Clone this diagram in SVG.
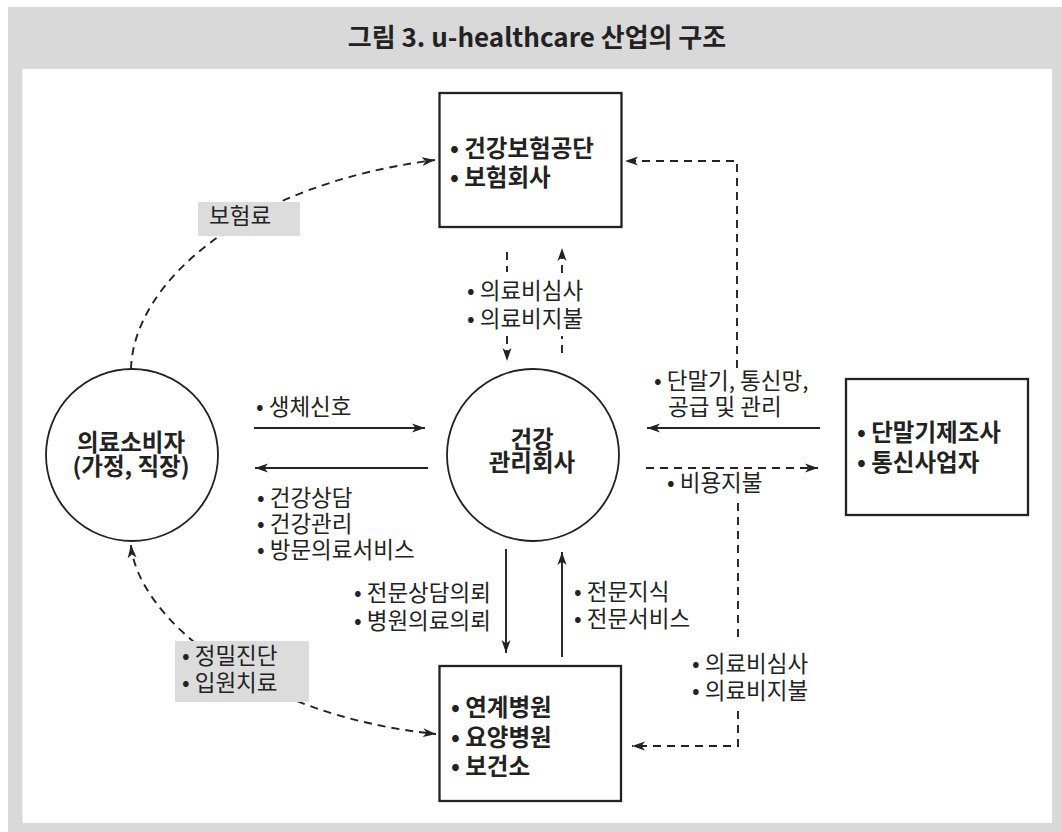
<svg xmlns="http://www.w3.org/2000/svg" width="1062" height="832" viewBox="0 0 1062 832">
<style>
.t{font-family:"Noto Sans CJK KR","Liberation Sans",sans-serif;fill:#222}
.node{font-size:23.5px;font-weight:bold}
.lab{font-size:22.5px}
.box{fill:#fff;stroke:#222;stroke-width:2.3}
.circ{fill:#fff;stroke:#222;stroke-width:1.8}
.ln{fill:none;stroke:#222;stroke-width:1.9}
.dash{stroke-dasharray:8 6}
.gl{fill:#dcdcdc}
</style>
<defs>
<marker id="ah" markerUnits="userSpaceOnUse" markerWidth="14" markerHeight="10" refX="13" refY="5" orient="auto-start-reverse">
<path d="M0,0.5 L13,5 L0,9.5 L3.5,5 Z" fill="#222"/>
</marker>
</defs>
<rect x="8" y="7" width="1054" height="825" fill="#d9d9d9"/>
<rect x="22.5" y="69" width="1029.5" height="754" fill="#fff"/>
<text class="t" x="537" y="47" text-anchor="middle" font-size="26" font-weight="bold">그림 3. u-healthcare 산업의 구조</text>

<g id="connectors">
<path class="ln dash" d="M131,369 C133,285 240,185 435,160" marker-end="url(#ah)"/>
<path class="ln dash" d="M131,545 C137,615 250,715 436,734" marker-start="url(#ah)" marker-end="url(#ah)"/>
<path class="ln dash" d="M507,252 L507,272"/>
<path class="ln dash" d="M507,336 L507,361" marker-end="url(#ah)"/>
<path class="ln dash" d="M562,273 L562,248" marker-end="url(#ah)"/>
<path class="ln dash" d="M562,353 L562,336"/>
<path class="ln dash" d="M737,368 L737,161 L625,161" marker-end="url(#ah)"/>
<path class="ln dash" d="M646,468 L818,468" marker-end="url(#ah)"/>
<path class="ln dash" d="M738,503 L738,640"/>
<path class="ln dash" d="M738,711 L738,746 L632,746" marker-end="url(#ah)"/>
<path class="ln" d="M254,428 L425,428" marker-end="url(#ah)"/>
<path class="ln" d="M428,468 L255,468" marker-end="url(#ah)"/>
<path class="ln" d="M820,428 L647,428" marker-end="url(#ah)"/>
<path class="ln" d="M506,549 L506,653" marker-end="url(#ah)"/>
<path class="ln" d="M562,657 L562,552" marker-end="url(#ah)"/>
</g>

<g id="labels">
<rect class="gl" x="198" y="202" width="102" height="34"/>
<text class="t lab" x="209" y="224">보험료</text>
<text class="t lab" x="467" y="299">• 의료비심사</text>
<text class="t lab" x="467" y="327">• 의료비지불</text>
<text class="t lab" x="654" y="389">• 단말기, 통신망,</text>
<text class="t lab" x="668" y="415">공급 및 관리</text>
<text class="t lab" x="667" y="491">• 비용지불</text>
<text class="t lab" x="256" y="415">• 생체신호</text>
<text class="t lab" x="257" y="506">• 건강상담</text>
<text class="t lab" x="257" y="532">• 건강관리</text>
<text class="t lab" x="257" y="558">• 방문의료서비스</text>
<text class="t lab" x="354" y="601">• 전문상담의뢰</text>
<text class="t lab" x="354" y="629">• 병원의료의뢰</text>
<text class="t lab" x="574" y="600">• 전문지식</text>
<text class="t lab" x="574" y="627">• 전문서비스</text>
<rect class="gl" x="175" y="641" width="134" height="61"/>
<text class="t lab" x="182" y="664">• 정밀진단</text>
<text class="t lab" x="182" y="691">• 입원치료</text>
<text class="t lab" x="692" y="672">• 의료비심사</text>
<text class="t lab" x="692" y="699">• 의료비지불</text>
</g>

<g id="node-insurer">
<rect class="box" x="439.5" y="93" width="182" height="134"/>
<text class="t node" x="450" y="157">• 건강보험공단</text>
<text class="t node" x="450" y="186">• 보험회사</text>
</g>
<g id="node-consumer">
<circle class="circ" cx="132" cy="455" r="86"/>
<text class="t node" x="131" y="451" text-anchor="middle">의료소비자</text>
<text class="t node" x="131" y="475" text-anchor="middle">(가정, 직장)</text>
</g>
<g id="node-center">
<circle class="circ" cx="533" cy="455" r="86"/>
<text class="t node" x="532" y="448" text-anchor="middle">건강</text>
<text class="t node" x="532" y="471" text-anchor="middle">관리회사</text>
</g>
<g id="node-vendor">
<rect class="box" x="846" y="379" width="182" height="136"/>
<text class="t node" x="857" y="441">• 단말기제조사</text>
<text class="t node" x="857" y="471">• 통신사업자</text>
</g>
<g id="node-hospital">
<rect class="box" x="439.5" y="666" width="181.5" height="135"/>
<text class="t node" x="451" y="716">• 연계병원</text>
<text class="t node" x="451" y="746">• 요양병원</text>
<text class="t node" x="451" y="775">• 보건소</text>
</g>
</svg>
